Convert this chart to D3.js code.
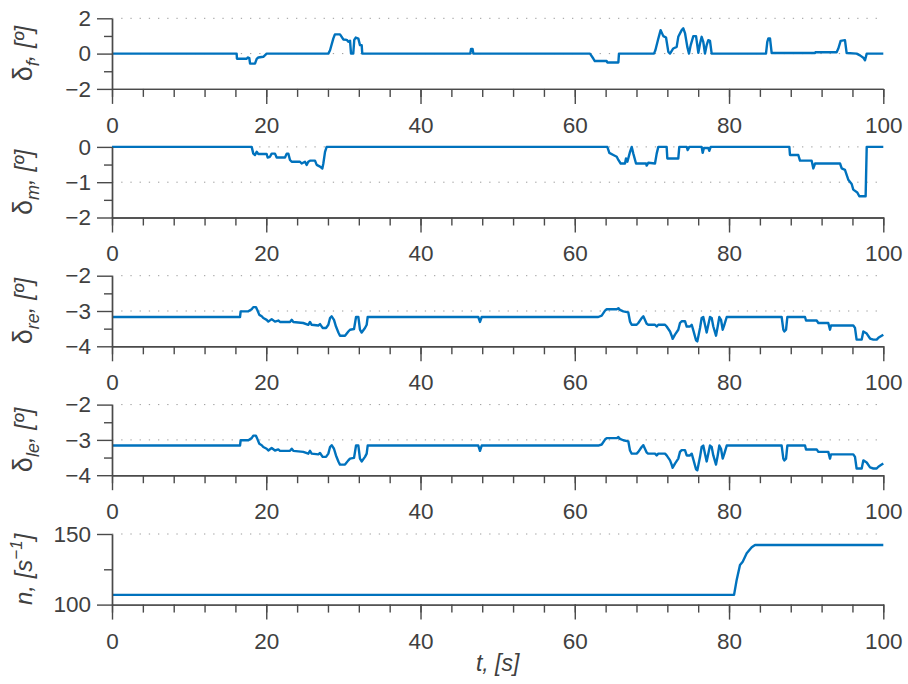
<!DOCTYPE html>
<html><head><meta charset="utf-8">
<script src="https://cdn.jsdelivr.net/npm/d3@7"></script>
<style>
body{margin:0;background:#fff}
svg{display:block}
text{font-family:"Liberation Sans",Arial,Helvetica,sans-serif;fill:#404040}
</style>
</head><body>
<svg id="chart" width="908" height="684"></svg>
<script>
// ---- data (time [s], value) ----
const deltaF = [[0,0],[16.16,0],[16.2,-0.29],[17.46,-0.29],[17.6,-0.22],[17.8,-0.25],[17.9,-0.57],[18.54,-0.57],[18.76,-0.3],[18.97,-0.22],[19.62,-0.18],[20.05,0],[28.05,0],[28.27,0.19],[28.7,0.86],[28.9,1.09],[29.56,1.09],[29.78,0.95],[29.99,0.8],[30.43,0.78],[30.64,0.67],[30.86,0.73],[30.99,0],[31.28,0],[31.41,0.78],[31.6,0.91],[31.94,0.85],[32.15,0.48],[32.37,0.48],[32.45,0],[46.45,0],[46.55,0.27],[46.75,0.27],[46.85,0],[61.97,0],[62.4,-0.28],[62.6,-0.42],[64.14,-0.42],[64.2,-0.5],[65.65,-0.5],[65.73,0],[70.27,0],[70.45,0.19],[70.8,0.8],[71.13,1.33],[71.48,0.99],[71.83,0.91],[72.13,0.1],[72.35,0],[72.77,0.29],[73.21,0.38],[73.42,0.95],[73.86,1.33],[74.07,1.43],[74.3,1.14],[74.59,0.38],[74.81,0],[75.03,0.48],[75.37,0.99],[75.72,0.99],[76.02,0.04],[76.24,0.57],[76.45,0.95],[76.66,0.67],[76.88,0],[77.1,0.48],[77.31,0.76],[77.53,0.72],[77.75,0],[84.79,0],[84.96,0.67],[85.1,0.86],[85.31,0.86],[85.53,0.03],[91.15,0.03],[91.2,0.08],[93.95,0.08],[94.17,0.29],[94.47,0.72],[95.03,0.76],[95.25,0.03],[96.54,0],[96.98,-0.1],[97.41,-0.23],[97.63,-0.38],[97.85,0],[100,0]];

const deltaM = [[0,0],[18.11,0],[18.32,-0.19],[18.54,-0.23],[18.76,-0.14],[18.97,-0.2],[20.05,-0.2],[20.18,-0.3],[20.48,-0.28],[20.7,-0.19],[21.13,-0.19],[21.35,-0.3],[22.43,-0.3],[22.65,-0.19],[22.86,-0.19],[23.08,-0.37],[23.3,-0.42],[24.37,-0.42],[24.59,-0.47],[25.02,-0.42],[25.24,-0.51],[25.45,-0.42],[25.67,-0.39],[26.32,-0.39],[26.54,-0.51],[26.97,-0.56],[27.27,-0.61],[27.4,-0.47],[27.62,-0.14],[27.83,0],[64.22,0],[64.48,-0.17],[65.0,-0.23],[65.44,-0.28],[65.65,-0.37],[65.95,-0.47],[66.51,-0.47],[66.64,-0.33],[66.82,-0.42],[67.16,-0.14],[67.38,0],[67.59,-0.19],[67.94,-0.47],[69.24,-0.47],[69.32,-0.53],[69.53,-0.45],[70.4,-0.47],[70.62,-0.19],[70.83,0],[71.91,0],[72.0,-0.33],[73.42,-0.33],[73.55,0],[74.51,0],[74.64,-0.09],[74.85,0],[76.45,0],[76.58,-0.17],[76.75,-0.03],[77.31,-0.03],[77.44,-0.11],[77.62,0],[87.82,0],[87.9,-0.23],[88.98,-0.23],[89.2,-0.39],[90.71,-0.39],[90.93,-0.61],[91.15,-0.47],[94.39,-0.47],[94.61,-0.61],[95.03,-0.65],[95.46,-0.93],[95.9,-1.05],[96.11,-1.21],[96.63,-1.29],[96.89,-1.4],[97.71,-1.4],[97.85,0],[100,0]];

const deltaRe = [[0,-3.17],[16.6,-3.17],[16.68,-3.01],[17.68,-3.01],[18.11,-2.95],[18.32,-2.89],[18.66,-2.89],[18.84,-2.97],[19.1,-3.11],[19.41,-3.15],[19.62,-3.2],[20.05,-3.25],[20.27,-3.3],[20.7,-3.23],[21.13,-3.3],[21.56,-3.27],[21.78,-3.31],[23.08,-3.31],[23.3,-3.25],[23.51,-3.31],[24.8,-3.34],[25.45,-3.39],[25.67,-3.31],[25.89,-3.39],[26.75,-3.41],[26.97,-3.37],[27.31,-3.48],[27.75,-3.48],[28.05,-3.39],[28.27,-3.2],[28.48,-3.15],[28.78,-3.25],[29.04,-3.44],[29.35,-3.61],[29.56,-3.7],[30.21,-3.7],[30.64,-3.58],[30.86,-3.53],[31.38,-3.51],[31.64,-3.17],[31.94,-3.17],[32.15,-3.53],[32.37,-3.61],[32.8,-3.48],[33.02,-3.39],[33.15,-3.17],[47.49,-3.17],[47.71,-3.31],[47.93,-3.17],[63.05,-3.17],[63.49,-3.13],[63.92,-2.99],[64.14,-2.95],[65.44,-2.95],[65.65,-2.92],[65.86,-2.97],[66.29,-3.01],[66.94,-3.04],[67.16,-3.3],[67.38,-3.39],[68.02,-3.39],[68.24,-3.34],[68.67,-3.2],[68.89,-3.15],[69.32,-3.36],[69.53,-3.39],[70.4,-3.39],[70.62,-3.44],[70.83,-3.39],[71.7,-3.39],[71.91,-3.44],[72.35,-3.58],[72.56,-3.7],[72.69,-3.79],[72.99,-3.67],[73.42,-3.53],[73.64,-3.34],[73.86,-3.29],[74.29,-3.29],[74.51,-3.44],[74.94,-3.44],[75.16,-3.39],[75.37,-3.55],[75.72,-3.83],[75.89,-3.86],[76.24,-3.48],[76.45,-3.2],[76.66,-3.17],[76.88,-3.39],[77.1,-3.61],[77.31,-3.39],[77.53,-3.17],[77.75,-3.2],[77.96,-3.44],[78.31,-3.7],[78.53,-3.44],[78.74,-3.17],[78.96,-3.25],[79.18,-3.53],[79.39,-3.39],[79.7,-3.17],[86.82,-3.17],[87.04,-3.53],[87.17,-3.58],[87.39,-3.53],[87.56,-3.17],[89.85,-3.17],[89.98,-3.27],[91.36,-3.27],[91.58,-3.34],[92.87,-3.34],[93.09,-3.53],[93.22,-3.41],[96.11,-3.41],[96.33,-3.48],[96.54,-3.81],[97.2,-3.81],[97.41,-3.58],[97.85,-3.64],[98.28,-3.78],[98.71,-3.81],[99.14,-3.81],[99.36,-3.76],[99.79,-3.7],[100,-3.67]];

const deltaLe = [[0,-3.16],[16.6,-3.16],[16.68,-3.01],[17.68,-3.01],[18.11,-2.95],[18.32,-2.88],[18.66,-2.88],[18.84,-2.97],[19.1,-3.11],[19.41,-3.15],[19.62,-3.2],[20.05,-3.25],[20.27,-3.3],[20.7,-3.23],[21.13,-3.3],[21.56,-3.27],[21.78,-3.31],[23.08,-3.31],[23.3,-3.25],[23.51,-3.31],[24.8,-3.34],[25.45,-3.39],[25.67,-3.31],[25.89,-3.39],[26.75,-3.41],[26.97,-3.37],[27.31,-3.48],[27.75,-3.48],[28.05,-3.39],[28.27,-3.2],[28.48,-3.15],[28.78,-3.25],[29.04,-3.44],[29.35,-3.61],[29.56,-3.7],[30.21,-3.7],[30.64,-3.58],[30.86,-3.53],[31.38,-3.51],[31.64,-3.16],[31.94,-3.16],[32.15,-3.53],[32.37,-3.61],[32.8,-3.48],[33.02,-3.39],[33.15,-3.16],[47.49,-3.16],[47.71,-3.31],[47.93,-3.16],[63.05,-3.16],[63.49,-3.13],[63.92,-2.99],[64.14,-2.95],[65.44,-2.95],[65.65,-2.92],[65.86,-2.97],[66.29,-3.01],[66.94,-3.04],[67.16,-3.3],[67.38,-3.39],[68.02,-3.39],[68.24,-3.34],[68.67,-3.2],[68.89,-3.15],[69.32,-3.36],[69.53,-3.39],[70.4,-3.39],[70.62,-3.44],[70.83,-3.39],[71.7,-3.39],[71.91,-3.44],[72.35,-3.58],[72.56,-3.7],[72.69,-3.79],[72.99,-3.67],[73.42,-3.53],[73.64,-3.34],[73.86,-3.29],[74.29,-3.29],[74.51,-3.44],[74.94,-3.44],[75.16,-3.39],[75.37,-3.55],[75.72,-3.83],[75.89,-3.86],[76.24,-3.48],[76.45,-3.2],[76.66,-3.16],[76.88,-3.39],[77.1,-3.61],[77.31,-3.39],[77.53,-3.16],[77.75,-3.2],[77.96,-3.44],[78.31,-3.7],[78.53,-3.44],[78.74,-3.16],[78.96,-3.25],[79.18,-3.53],[79.39,-3.39],[79.7,-3.16],[86.82,-3.16],[87.04,-3.53],[87.17,-3.58],[87.39,-3.53],[87.56,-3.16],[89.85,-3.16],[89.98,-3.27],[91.36,-3.27],[91.58,-3.34],[92.87,-3.34],[93.09,-3.53],[93.22,-3.41],[96.11,-3.41],[96.33,-3.48],[96.54,-3.81],[97.2,-3.81],[97.41,-3.58],[97.85,-3.64],[98.28,-3.78],[98.71,-3.81],[99.14,-3.81],[99.36,-3.76],[99.79,-3.7],[100,-3.67]];

const speedN = [[0,106.9],[80.65,106.9],[80.99,117.5],[81.42,128],[81.77,130.4],[82.29,136.3],[82.94,140.6],[83.37,142.2],[100,142.2]];

// ---- tick labels ----
const xMajorTicks = [0,20,40,60,80,100];
const xMinorTicks = d3.range(0,101,4);
const yDomains = [[-2,2],[-2,0],[-4,-2],[-4,-2],[100,150]];
const yMajorTicks = [[-2,0,2],[-2,-1,0],[-4,-3,-2],[-4,-3,-2],[100,150]];
const yMinorTicks = [[-1,1],[-1.5,-0.5],[-3.5,-2.5],[-3.5,-2.5],[125]];
const ySubs = ["f","m","re","le",null];

// ---- layout ----
const svg = d3.select("#chart");
const left = 112, right = 883.3;
const tops = [18.3, 146.9, 275.7, 404.6, 534];
const ph = 70.6;
const axisColor = "#4a4a4a";
const lineColor = "#0072BD";
const x = d3.scaleLinear().domain([0,100]).range([left,right]);
const series = [deltaF, deltaM, deltaRe, deltaLe, speedN];

series.forEach((data, i) => {
  const top = tops[i], bottom = top + ph;
  const y = d3.scaleLinear().domain(yDomains[i]).range([bottom, top]);
  const g = svg.append("g");

  g.selectAll("line.grid").data(yMajorTicks[i].filter(v => v !== yDomains[i][0]))
    .enter().append("line")
    .attr("x1", left).attr("x2", right)
    .attr("y1", d => y(d)).attr("y2", d => y(d))
    .attr("stroke", "#9a9a9a").attr("stroke-width", 1)
    .attr("stroke-dasharray", "1.3,7.9");

  g.append("path").datum(data)
    .attr("fill", "none").attr("stroke", lineColor)
    .attr("stroke-width", 2.4).attr("stroke-linejoin", "round")
    .attr("d", d3.line().x(d => x(d[0])).y(d => y(d[1])));

  const xMinor = g.append("g").attr("transform", `translate(0,${bottom})`)
    .call(d3.axisBottom(x).tickValues(xMinorTicks).tickSize(8).tickSizeOuter(0).tickFormat(""));
  const xMajor = g.append("g").attr("transform", `translate(0,${bottom})`)
    .call(d3.axisBottom(x).tickValues(xMajorTicks).tickSize(15).tickSizeOuter(0).tickPadding(13).tickFormat(d3.format("d")));

  const yMinor = g.append("g").attr("transform", `translate(${left},0)`)
    .call(d3.axisLeft(y).tickValues(yMinorTicks[i]).tickSize(8).tickSizeOuter(0).tickFormat(""));
  const yMajor = g.append("g").attr("transform", `translate(${left},0)`)
    .call(d3.axisLeft(y).tickValues(yMajorTicks[i]).tickSize(15).tickSizeOuter(0).tickPadding(6).tickFormat(d3.format("d")));

  [xMinor, xMajor, yMinor, yMajor].forEach(a => {
    a.selectAll("path,line").attr("stroke", axisColor).attr("stroke-width", 1.4);
    a.selectAll("text").attr("fill", "#404040").style("font-size", "22.5px")
      .style("font-family", '"Liberation Sans",Arial,Helvetica,sans-serif');
  });

  const t = svg.append("text")
    .attr("transform", `translate(32,${top + ph/2}) rotate(-90)`)
    .attr("text-anchor", "middle")
    .style("font-size", "24px").style("font-style", "italic");
  if (ySubs[i]) {
    t.append("tspan").style("font-style", "normal").style("font-size", "27px").text("δ");
    t.append("tspan").attr("dy", 7).style("font-size", "18px").text(ySubs[i]);
    t.append("tspan").attr("dy", -7).text(", [º]");
  } else {
    t.append("tspan").text("n, [s");
    t.append("tspan").attr("dy", -10).style("font-size", "17px").text("−1");
    t.append("tspan").attr("dy", 10).text("]");
  }
});

svg.append("text")
  .attr("x", (left + right) / 2).attr("y", 671)
  .attr("text-anchor", "middle")
  .style("font-size", "23px").style("font-style", "italic")
  .text("t, [s]");
</script>
</body></html>
